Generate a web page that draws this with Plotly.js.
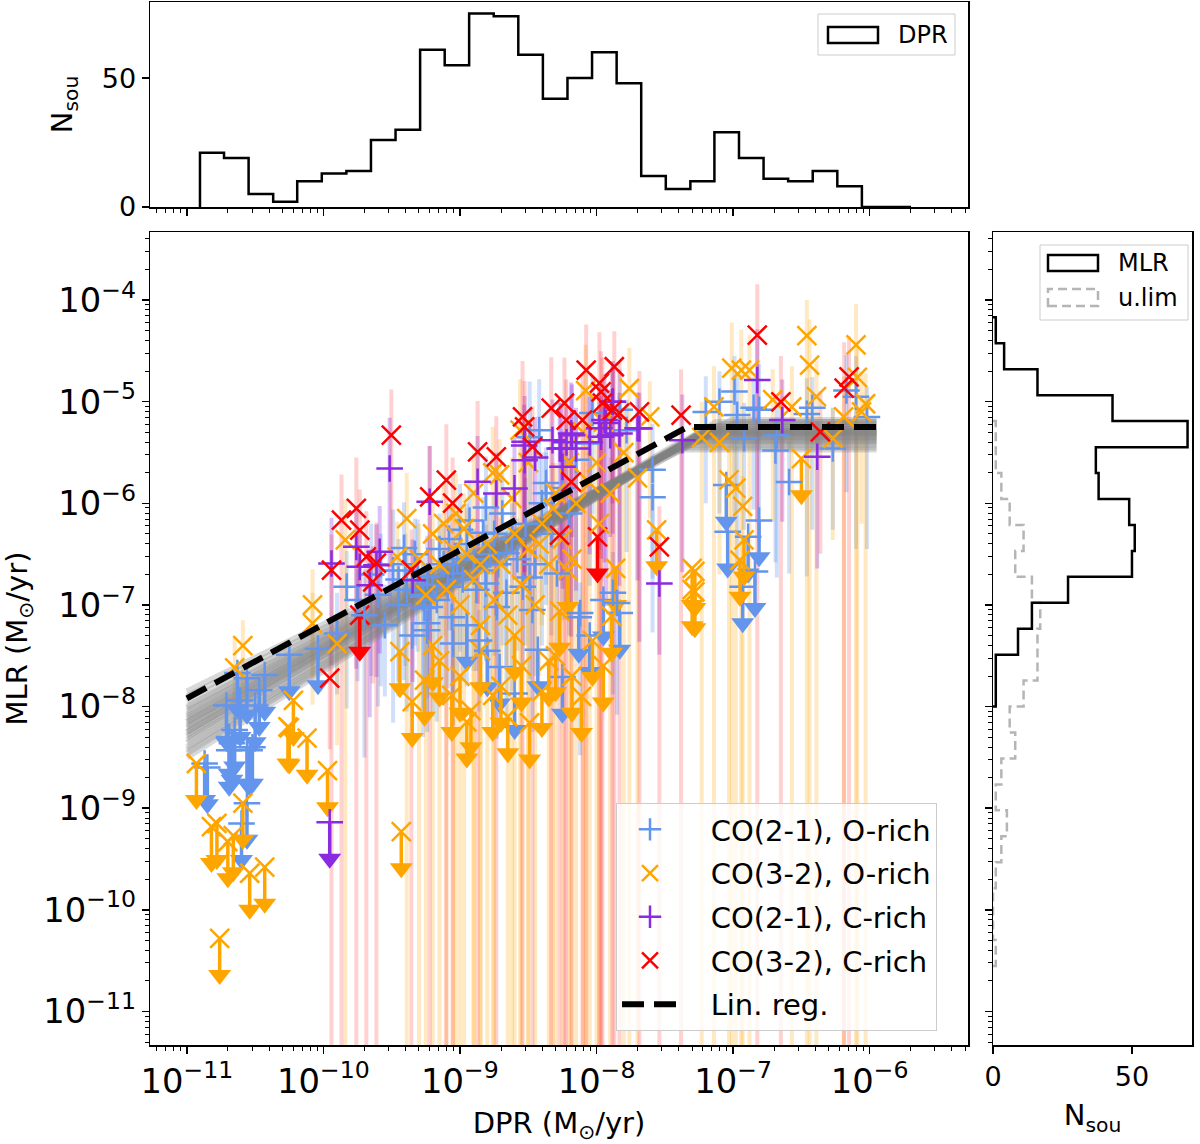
<!DOCTYPE html>
<html><head><meta charset="utf-8">
<script src="https://cdn.plot.ly/plotly-3.0.1.min.js"></script>
<style>body{margin:0;background:#fff}#plot{width:1200px;height:1144px}</style>
</head><body><div id="plot"></div>
<script>
// ---------- DATA (log10 values) ----------
// CO(2-1), O-rich detections
const logDPR_b = [-9.90,-9.83,-9.75,-9.70,-9.65,-9.60,-9.55,-9.49,-9.45,-9.41,-9.40,-9.39,-9.35,-9.31,-9.27,-9.26,-9.24,-9.20,
 -9.17,-9.00,-8.93,-8.83,-8.81,-8.69,-8.66,-8.49,-8.42,-8.37,-8.37,-8.15,-8.05,-8.03,-7.83,-7.78,-7.59,-7.59,-8.66,-8.49,-9.05,-8.81,-7.88,-7.85,-8.12,-9.27,-9.22,
 -9.24,-9.09,-9.06,-8.81,-8.73,-8.86,-8.54,-8.47,-8.29,-9.24,-9.05,
 -6.99,-6.97,-6.85,-6.81,-6.92,-6.69,-6.68,-6.46,-6.42,-6.27,-6.17,-6.02,-6.59,-7.20,-7.10,-6.10,
 -9.15,-9.12,-9.08,-9.02,-8.98,-8.95,-8.90,-8.88,-8.78,-8.75,-8.72,-8.62,-8.58,-8.52,-8.45,-8.40,-8.33,-8.25,-8.20,-9.33,-9.45,-9.58];
const logMLR_b = [-7.28,-6.82,-6.95,-7.10,-6.70,-6.90,-7.20,-6.66,-7.00,-6.44,-6.60,-6.85,-7.30,-6.66,-6.90,-7.03,-7.25,-6.80,
 -6.95,-6.26,-6.17,-6.29,-6.04,-6.10,-6.49,-5.35,-5.28,-5.80,-5.90,-5.57,-5.41,-5.11,-5.08,-5.28,-5.67,-5.94,-6.88,-6.73,-6.69,-6.79,-6.88,-6.98,-7.08,-6.92,-7.02,
 -6.72,-6.82,-7.12,-6.66,-7.02,-7.35,-6.82,-7.05,-6.69,-7.18,-7.38,
 -4.90,-5.13,-5.06,-5.08,-5.36,-5.48,-5.33,-5.12,-5.06,-5.46,-4.89,-5.15,-5.79,-5.10,-5.00,-4.95,
 -6.45,-6.60,-6.35,-6.55,-6.75,-6.40,-6.55,-6.85,-6.50,-6.30,-6.60,-6.35,-6.55,-6.20,-6.60,-6.00,-6.30,-5.85,-6.10,-6.50,-6.75,-6.60];
const errHi_b = [0.40,0.35,0.30,0.45,0.50,0.30,0.40,0.60,0.35,0.45,0.30,0.40,0.35,0.50,0.30,0.40,0.35,0.45,
 0.30,0.45,0.40,0.35,0.50,0.40,0.30,0.55,0.50,0.35,0.40,0.45,0.50,0.35,0.40,0.30,0.45,0.35,0.30,0.40,0.35,0.30,0.40,0.35,0.30,0.40,0.35,
 0.40,0.35,0.30,0.45,0.35,0.30,0.40,0.35,0.45,0.30,0.35,
 0.35,0.40,0.30,0.45,0.35,0.30,0.40,0.35,0.30,0.40,0.35,0.30,0.40,0.35,0.30,0.40,
 0.35,0.40,0.30,0.45,0.35,0.40,0.30,0.35,0.45,0.40,0.30,0.35,0.40,0.45,0.30,0.50,0.35,0.40,0.30,0.35,0.40,0.30];
const errLo_b = [0.60,1.20,0.80,1.40,1.00,1.10,0.70,1.50,0.90,1.30,1.00,1.20,0.80,0.80,1.40,1.10,1.00,1.30,
 1.20,1.20,1.40,0.90,1.50,1.30,1.10,1.60,1.30,1.20,0.90,1.40,1.40,1.00,1.50,1.20,1.60,0.80,1.30,1.00,1.20,0.70,1.00,1.10,1.40,1.10,0.80,
 1.20,1.00,1.10,0.90,1.30,0.70,0.80,1.20,1.20,0.90,0.80,
 1.20,1.50,1.00,1.30,0.90,1.10,1.40,1.60,1.20,0.80,1.00,1.30,0.90,0.90,1.10,1.50,
 1.10,1.30,0.90,1.20,1.00,1.40,1.10,0.80,1.30,1.20,1.00,1.50,0.90,1.20,1.10,1.40,1.00,1.30,1.20,0.90,1.00,1.20];

// CO(3-2), O-rich detections
const logDPR_o = [-10.59,-10.65,-10.08,-10.08,-9.90,-9.84,-9.39,-9.46,
 -9.03,-8.76,-8.71,-8.56,-8.08,-7.76,-7.61,
 -9.15,-9.10,-9.00,-8.95,-8.90,-8.85,-8.80,-8.75,-8.70,-8.65,-8.60,-8.55,-8.50,-8.45,-8.40,-8.35,-8.30,-8.25,-8.20,-8.15,-8.10,-8.00,-7.95,-7.90,-8.50,-8.90,-9.20,
 -7.14,-7.23,-7.10,-7.01,-6.94,-6.88,-6.71,-6.57,-6.44,-6.39,-6.27,-6.19,-6.09,-6.03,-6.06,-7.03,-6.98,-6.93,-6.46,-6.10,
 -9.30,-9.25,-9.12,-9.05,-8.97,-8.85,-8.62,-8.42,-8.32,-8.18,-8.05,-7.98,-7.80,-7.70];
const logMLR_o = [-7.40,-7.62,-7.00,-7.18,-7.38,-6.36,-6.15,-6.53,
 -6.10,-5.70,-5.72,-5.28,-4.89,-4.87,-5.15,
 -6.60,-6.85,-7.00,-6.50,-6.75,-7.20,-6.40,-6.95,-6.60,-7.10,-6.30,-6.80,-6.45,-7.00,-6.20,-6.60,-5.90,-6.35,-5.60,-6.00,-5.30,-5.60,-5.20,-5.90,-5.60,-5.90,-6.30,
 -5.05,-5.35,-5.40,-4.67,-4.69,-4.69,-4.98,-5.05,-4.64,-4.95,-5.36,-5.15,-4.76,-5.02,-5.10,-5.77,-5.85,-6.03,-4.35,-4.44,
 -6.55,-6.90,-6.20,-6.45,-6.25,-6.60,-5.95,-6.40,-6.05,-6.55,-5.80,-6.20,-5.50,-5.75];
const errHi_o = [0.25,0.30,0.35,0.30,0.25,0.40,0.45,0.35,
 0.40,0.45,0.35,0.50,0.45,0.40,0.35,
 0.35,0.40,0.30,0.45,0.35,0.40,0.30,0.35,0.45,0.30,0.40,0.35,0.30,0.45,0.40,0.35,0.30,0.40,0.45,0.35,0.40,0.30,0.45,0.35,0.30,0.40,0.35,
 0.40,0.35,0.30,0.45,0.40,0.35,0.30,0.40,0.45,0.35,0.30,0.40,0.35,0.30,0.40,0.35,0.40,0.30,0.35,0.40,
 0.35,0.30,0.40,0.45,0.35,0.30,0.40,0.35,0.45,0.30,0.40,0.35,0.45,0.40];
const errLo_o = [0.50,0.60,0.70,0.80,1.00,99,99,0.90,
 99,99,1.20,99,99,99,1.00,
 99,99,99,1.00,99,99,99,99,1.20,99,99,99,99,99,1.00,99,99,99,99,99,99,99,1.10,99,99,99,99,
 99,99,1.30,99,99,99,1.20,99,99,99,1.00,99,99,99,1.10,99,99,99,99,99,
 99,99,1.10,99,99,99,99,1.30,99,99,99,99,99,99];

// CO(2-1), C-rich detections
const logDPR_p = [-9.515,-9.941,-9.759,-9.734,-9.588,-9.612,-9.661,-9.222,-9.347,
 -8.871,-8.734,-8.601,-8.527,-8.527,-8.323,-8.259,-8.249,-8.186,-7.967,-7.884,-7.942,-7.832,-7.686,-7.540,-7.372,
 -6.823,-6.640,-6.384,
 -8.53,-8.27,-8.22,-8.18,-8.15,-7.98,-7.93,-7.88,-7.90,-7.70,-8.45,-8.05];
const logMLR_p = [-5.657,-6.592,-6.428,-6.625,-6.477,-6.608,-6.805,-5.985,-6.756,
 -5.788,-5.903,-5.853,-5.395,-5.575,-5.378,-5.460,-5.641,-5.312,-5.345,-5.001,-5.181,-5.312,-5.263,-6.789,-5.378,
 -4.787,-5.181,-5.542,
 -5.43,-5.46,-5.40,-5.33,-5.46,-5.26,-5.21,-5.00,-5.33,-5.26,-5.55,-5.40];
const errHi_p = [0.50,0.45,0.40,0.35,0.45,0.40,0.35,0.55,0.40,
 0.45,0.40,0.50,0.45,0.35,0.40,0.45,0.35,0.50,0.40,0.35,0.45,0.40,0.35,0.40,0.45,
 0.50,0.40,0.35,
 0.40,0.45,0.35,0.50,0.40,0.45,0.35,0.40,0.45,0.35,0.40,0.45];
const errLo_p = [1.50,1.00,1.20,0.90,1.00,1.10,1.30,1.40,1.00,
 1.20,1.20,0.90,1.40,1.10,1.00,1.30,1.20,2.00,1.20,1.00,1.40,1.50,2.10,0.70,1.30,
 1.40,1.00,1.10,
 1.30,1.10,1.60,1.00,1.40,1.20,1.80,1.30,1.00,1.50,1.20,1.10];

// CO(3-2), C-rich detections
const logDPR_r = [-9.868,-9.759,-9.734,-9.941,-9.686,-9.612,-9.639,-9.356,-9.503,-9.222,-9.954,
 -9.100,-9.054,-8.871,-8.734,-8.542,-8.527,-8.469,-8.332,-8.235,-8.222,-8.076,-7.979,-7.967,-7.870,-7.957,-7.884,-7.832,-8.103,-7.686,-7.381,-8.185,-8.271,-7.540,
 -6.823,-6.650,-6.361,-6.187,-6.151];
const logMLR_r = [-6.165,-6.050,-6.264,-6.657,-6.527,-6.589,-6.773,-6.657,-5.329,-5.936,-7.720,
 -5.772,-5.998,-5.493,-5.542,-5.149,-5.247,-5.444,-5.063,-5.014,-5.181,-4.689,-4.817,-4.903,-4.656,-5.014,-5.083,-5.112,-5.181,-5.099,-5.132,-5.788,-6.313,-6.428,
 -4.344,-5.001,-5.296,-4.866,-4.755];
const errHi_r = [0.45,0.50,0.40,0.35,0.45,0.40,0.35,0.40,0.45,0.50,0.30,
 0.55,0.45,0.50,0.40,0.55,0.45,0.40,0.50,0.45,0.40,0.45,0.50,0.40,0.35,0.45,0.40,0.50,0.45,0.40,0.45,0.40,0.35,0.40,
 0.50,0.45,0.40,0.45,0.40];
const errLo_r = [99,99,1.20,99,99,99,1.00,99,1.30,99,0.70,
 99,99,99,99,99,1.50,99,99,99,99,99,99,99,99,99,99,99,99,99,99,99,99,99,
 99,99,1.20,99,99];

// Upper limits (log10 values)
const ulDPR_b = [-10.85,-10.69,-10.69,-10.56,-10.60,-10.54,-10.52,-10.63,-10.56,-10.43,-10.25,-10.04,-10.65,-10.67,-10.56,-10.87,-10.61,-10.71,-10.50,-10.47,
 -8.13,-7.83,-8.25,-8.60,-8.43,-8.71,-8.95,-8.80,-8.05,-7.95,
 -7.05,-7.04,-6.89,-6.84,-6.93,-6.81];
const ulMLR_b = [-8.60,-8.30,-8.43,-8.95,-9.15,-8.43,-8.40,-7.67,-7.72,-7.69,-7.49,-7.43,-8.23,-8.36,-8.40,-8.56,-7.94,-7.99,-7.99,-7.84,
 -7.12,-7.08,-7.71,-7.87,-7.44,-7.61,-7.20,-7.45,-7.30,-6.95,
 -5.82,-6.28,-6.33,-6.67,-6.82,-6.17];
const ulDPR_o = [-10.93,-10.82,-10.78,-10.70,-10.66,-10.54,-10.43,-10.76,-10.25,-10.12,-9.97,-9.43,-10.59,-10.22,-10.26,
 -9.26,-9.06,-8.92,-8.76,-8.49,-8.27,-8.11,-8.03,-7.89,-8.21,-7.30,-7.56,-7.30,-7.86,-9.44,-9.20,-8.60,-8.35,
 -9.15,-9.00,-8.85,-8.70,-8.55,-8.40,-8.30,-8.18,-7.95,-9.35,-8.95,-8.65,
 -6.50,-7.28,-7.28,-6.92,-6.95];
const ulMLR_o = [-8.56,-9.18,-9.15,-9.33,-9.27,-9.64,-9.58,-10.28,-8.21,-8.31,-8.63,-9.23,-8.95,-7.94,-8.20,
 -7.74,-7.89,-8.04,-7.89,-8.16,-7.06,-7.90,-7.35,-7.11,-6.66,-6.85,-6.26,-6.64,-6.64,-7.46,-7.40,-7.30,-7.55,
 -7.55,-7.70,-7.45,-7.80,-7.60,-7.85,-7.50,-7.70,-7.60,-7.95,-8.15,-8.10,
 -5.56,-6.67,-6.87,-6.36,-6.56];
const ulDPR_p = [-9.954];
const ulMLR_p = [-9.138];
const ulDPR_r = [-7.993,-9.734];
const ulMLR_r = [-6.330,-7.100];

// Regression realisations: log MLR at DPR=1e-11, slope, plateau (log MLR)
const bandInt   = [-7.85,-7.90,-7.95,-8.00,-8.02,-8.05,-8.08,-8.10,-8.12,-8.15,-8.18,-8.20,-8.22,-8.25,-8.28,-8.30,-8.33,-8.36,-8.40,-8.43,-8.46,-8.50,-8.15,-8.25];
const bandSlope = [0.66,0.67,0.69,0.71,0.71,0.72,0.73,0.74,0.74,0.75,0.76,0.77,0.77,0.78,0.79,0.80,0.80,0.81,0.82,0.83,0.84,0.85,0.74,0.79];
const bandPlat  = [-5.30,-5.20,-5.40,-5.25,-5.35,-5.18,-5.45,-5.28,-5.32,-5.22,-5.38,-5.30,-5.26,-5.42,-5.33,-5.20,-5.36,-5.29,-5.47,-5.24,-5.34,-5.31,-5.27,-5.39];
const regInt = -7.92, regSlope = 0.729, regPlat = -5.25;
const regRange = [-11.0, -5.95];

// DPR histogram (log10 bin edges, counts)
const dprEdges = [-10.904,-10.728,-10.548,-10.368,-10.192,-10.012,-9.832,-9.652,-9.472,-9.292,-9.112,-8.933,-8.753,-8.573,-8.393,-8.213,-8.033,-7.853,-7.673,-7.493,-7.313,-7.137,-6.957,-6.777,-6.597,-6.417,-6.237,-6.057,-5.877,-5.697];
const dprCounts = [21,19,5,2,10,13,14,26,30,61,55,75,74,59,42,50,60,48,12,7,10,29,19,11,10,14,8,0,0];

// MLR histograms (log10 bin edges, from high to low)
const mlrEdges = [-4.170,-4.425,-4.681,-4.936,-5.191,-5.447,-5.702,-5.957,-6.212,-6.468,-6.723,-6.978,-7.234,-7.489,-7.744,-8.000];
const mlrCounts = [1,4,16,43,70,37,38,49,51,50,27,14,9,1,1];
const ulimEdges = [-5.191,-5.447,-5.702,-5.957,-6.212,-6.468,-6.723,-6.978,-7.234,-7.489,-7.744,-8.000,-8.255,-8.510,-8.766,-9.021,-9.276,-9.532,-9.787,-10.042,-10.298,-10.553];
const ulimCounts = [1,1,3,6,11,8,14,17,16,16,11,6,8,3,1,5,3,1,0,0,1];

// ---------- BUILD ----------
const P = v => Math.pow(10, v);
const COL = {b:'#6495ED', o:'#FFA500', p:'#8A2BE2', r:'#FF0000'};
const FAINT = {b:'rgba(100,149,237,0.30)', o:'rgba(255,165,0,0.24)', p:'rgba(138,43,226,0.30)', r:'rgba(255,0,0,0.18)'};
const MS = 19;
const traces = [];

function errTrace(lx, ly, eh, el, c) {
  const x = lx.map(P), y = ly.map(P);
  return {type:'scatter', mode:'markers', x, y, xaxis:'x', yaxis:'y', showlegend:false, hoverinfo:'skip',
    marker:{size:2, opacity:0},
    error_y:{type:'data', symmetric:false, visible:true,
      array: y.map((v,i)=>v*(P(eh[i])-1)),
      arrayminus: y.map((v,i)=> el[i]>=99 ? v : v*(1-P(-el[i]))),
      color:FAINT[c], thickness:4, width:0}};
}
traces.push(errTrace(logDPR_b, logMLR_b, errHi_b, errLo_b, 'b'));
traces.push(errTrace(logDPR_o, logMLR_o, errHi_o, errLo_o, 'o'));
traces.push(errTrace(logDPR_p, logMLR_p, errHi_p, errLo_p, 'p'));
traces.push(errTrace(logDPR_r, logMLR_r, errHi_r, errLo_r, 'r'));

// regression band
for (let i = 0; i < bandInt.length; i++) {
  const brk = -11 + (bandPlat[i] - bandInt[i]) / bandSlope[i];
  traces.push({type:'scatter', mode:'lines', xaxis:'x', yaxis:'y', showlegend:false, hoverinfo:'skip',
    x:[regRange[0], brk, regRange[1]].map(P),
    y:[bandInt[i] + bandSlope[i]*(regRange[0]+11), bandPlat[i], bandPlat[i]].map(P),
    line:{color:'rgba(128,128,128,0.30)', width:6}});
}

// upper limits
const ARROW = 0.33, HEAD = 0.36;
function ulTraces(lx, ly, c, sym) {
  const x = lx.map(P), y = ly.map(P);
  return [
    {type:'scatter', mode:'markers', x, y, xaxis:'x', yaxis:'y', showlegend:false, hoverinfo:'skip',
      marker:{symbol:sym, size:MS, color:COL[c], line:{color:COL[c], width:2.5}},
      error_y:{type:'data', symmetric:false, array:y.map(()=>0), arrayminus:y.map(v=>v*(1-P(-ARROW))),
        color:COL[c], thickness:3.5, width:0}},
    {type:'scatter', mode:'markers', x, y:y.map(v=>v*P(-HEAD)), xaxis:'x', yaxis:'y', showlegend:false, hoverinfo:'skip',
      marker:{symbol:'triangle-down', size:20, color:COL[c], line:{width:0}}}
  ];
}
traces.push(...ulTraces(ulDPR_b, ulMLR_b, 'b', 'cross-thin-open'));
traces.push(...ulTraces(ulDPR_o, ulMLR_o, 'o', 'x-thin-open'));
traces.push(...ulTraces(ulDPR_p, ulMLR_p, 'p', 'cross-thin-open'));
traces.push(...ulTraces(ulDPR_r, ulMLR_r, 'r', 'x-thin-open'));

// detections
const PAD = '\u00a0\u00a0\u00a0';
function detTrace(lx, ly, c, sym, name) {
  return {type:'scatter', mode:'markers', name:PAD + name, legendgroup:name, x:lx.map(P), y:ly.map(P), xaxis:'x', yaxis:'y',
    marker:{symbol:sym, size:MS, color:COL[c], line:{color:COL[c], width:2.5}}};
}
traces.push(detTrace(logDPR_b, logMLR_b, 'b', 'cross-thin-open', 'CO(2-1), O-rich'));
traces.push(detTrace(logDPR_o, logMLR_o, 'o', 'x-thin-open', 'CO(3-2), O-rich'));
traces.push(detTrace(logDPR_p, logMLR_p, 'p', 'cross-thin-open', 'CO(2-1), C-rich'));
traces.push(detTrace(logDPR_r, logMLR_r, 'r', 'x-thin-open', 'CO(3-2), C-rich'));

// regression line
{
  const brk = -11 + (regPlat - regInt) / regSlope;
  traces.push({type:'scatter', mode:'lines', name:PAD + 'Lin. reg.', legendgroup:'reg', xaxis:'x', yaxis:'y',
    x:[regRange[0], brk, regRange[1]].map(P),
    y:[regInt + regSlope*(regRange[0]+11), regPlat, regPlat].map(P),
    line:{color:'black', width:6, dash:'22px,10px'}});
}

// DPR histogram (step)
{
  const x = [dprEdges[0]], y = [0];
  for (let i = 0; i < dprCounts.length; i++) { x.push(dprEdges[i], dprEdges[i+1]); y.push(dprCounts[i], dprCounts[i]); }
  x.push(dprEdges[dprEdges.length-1]); y.push(0);
  traces.push({type:'scatter', mode:'lines', x:x.map(P), y, xaxis:'x2', yaxis:'y2', showlegend:false,
    line:{color:'black', width:2.5}, hoverinfo:'skip'});
}
// MLR histograms (horizontal steps)
function hstep(edges, counts, color, dash) {
  const x = [0], y = [edges[0]];
  for (let i = 0; i < counts.length; i++) { y.push(edges[i], edges[i+1]); x.push(counts[i], counts[i]); }
  y.push(edges[edges.length-1]); x.push(0);
  return {type:'scatter', mode:'lines', x, y:y.map(P), xaxis:'x3', yaxis:'y3', showlegend:false,
    line:{color, width:2.5, dash}, hoverinfo:'skip'};
}
traces.push(hstep(ulimEdges, ulimCounts, '#b5b5b5', '9px,5px'));
traces.push(hstep(mlrEdges, mlrCounts, 'black', 'solid'));

// ---------- LAYOUT ----------
const F = 'DejaVu Sans';
const common = {showgrid:false, zeroline:false, showline:true, mirror:true, linecolor:'black', linewidth:1.5,
  ticks:'outside', ticklen:7, tickwidth:1.5, tickcolor:'black', tickfont:{family:F, size:27, color:'black'}};
const minorLog = {ticks:'outside', ticklen:4, tickwidth:1, tickcolor:'black', dtick:'D1', showgrid:false};
const xd = [150/1200, 968/1200];
const yd = [1-1045/1144, 1-232/1144];
const layout = {
  width:1200, height:1144, margin:{l:0, r:0, t:0, b:0},
  paper_bgcolor:'white', plot_bgcolor:'white', font:{family:F, color:'black', size:27},
  showlegend:true,
  legend:{x:616/1200, y:1-803/1144, xanchor:'left', yanchor:'top', bgcolor:'rgba(255,255,255,0.8)',
    bordercolor:'#cccccc', borderwidth:1, font:{family:F, size:29, color:'black'}, itemwidth:56,
    traceorder:'grouped', tracegroupgap:3},
  xaxis:Object.assign({}, common, {domain:xd, anchor:'y', type:'log', range:[-11.27,-5.28], dtick:1, exponentformat:'power',
    minor:minorLog, title:{text:'DPR (M<sub>⊙</sub>/yr)', font:{family:F, size:29}, standoff:14}}),
  yaxis:Object.assign({}, common, {domain:yd, anchor:'x', type:'log', range:[-11.33,-3.33], dtick:1, exponentformat:'power',
    minor:minorLog, title:{text:'MLR (M<sub>⊙</sub>/yr)', font:{family:F, size:29}, standoff:12}}),
  xaxis2:Object.assign({}, common, {domain:xd, anchor:'y2', type:'log', matches:'x', dtick:1, showticklabels:false, minor:minorLog}),
  yaxis2:Object.assign({}, common, {domain:[1-207/1144, 1-2/1144], anchor:'x2', range:[0,79.5], tickvals:[0,50],
    title:{text:'N<sub>sou</sub>', font:{family:F, size:29}, standoff:20}}),
  xaxis3:Object.assign({}, common, {domain:[993/1200, 1192/1200], anchor:'y3', range:[0,71.6], tickvals:[0,50],
    title:{text:'N<sub>sou</sub>', font:{family:F, size:29}, standoff:14}}),
  yaxis3:Object.assign({}, common, {domain:yd, anchor:'x3', type:'log', matches:'y', dtick:1, showticklabels:false, minor:minorLog}),
  shapes:[
    {type:'rect', xref:'paper', yref:'paper', x0:818/1200, x1:955/1200, y0:1-55/1144, y1:1-14/1144, line:{color:'#cccccc', width:1}, fillcolor:'rgba(255,255,255,0.8)'},
    {type:'rect', xref:'paper', yref:'paper', x0:828/1200, x1:878/1200, y0:1-43/1144, y1:1-27/1144, line:{color:'black', width:2.5}, fillcolor:'white'},
    {type:'rect', xref:'paper', yref:'paper', x0:1040/1200, x1:1188/1200, y0:1-320/1144, y1:1-245/1144, line:{color:'#cccccc', width:1}, fillcolor:'rgba(255,255,255,0.8)'},
    {type:'rect', xref:'paper', yref:'paper', x0:1048/1200, x1:1098/1200, y0:1-271/1144, y1:1-255/1144, line:{color:'black', width:2.5}, fillcolor:'white'},
    {type:'rect', xref:'paper', yref:'paper', x0:1048/1200, x1:1098/1200, y0:1-306/1144, y1:1-289/1144, line:{color:'#b5b5b5', width:2.5, dash:'9px,5px'}, fillcolor:'white'}
  ],
  annotations:[
    {xref:'paper', yref:'paper', x:896/1200, y:1-35/1144, xanchor:'left', yanchor:'middle', text:'DPR', showarrow:false, font:{family:F, size:24, color:'black'}},
    {xref:'paper', yref:'paper', x:1116/1200, y:1-263/1144, xanchor:'left', yanchor:'middle', text:'MLR', showarrow:false, font:{family:F, size:24, color:'black'}},
    {xref:'paper', yref:'paper', x:1116/1200, y:1-298/1144, xanchor:'left', yanchor:'middle', text:'u.lim', showarrow:false, font:{family:F, size:24, color:'black'}}
  ]
};
Plotly.newPlot('plot', traces, layout, {staticPlot:true});
</script>
</body></html>
